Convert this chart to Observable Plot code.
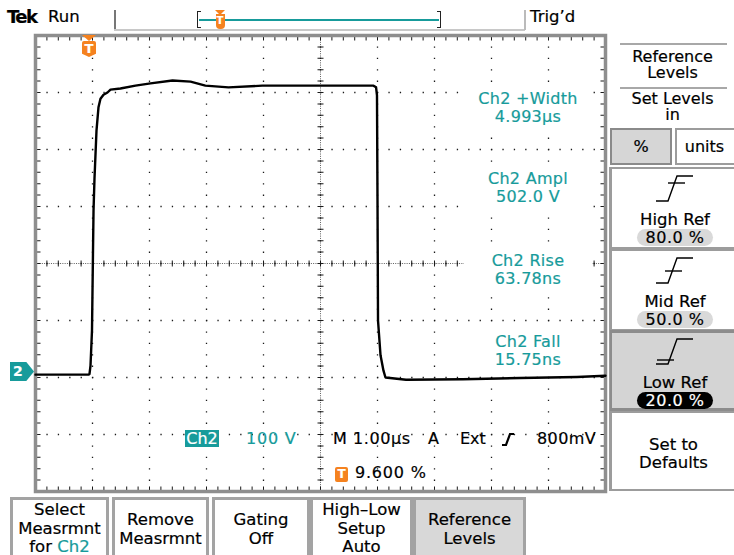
<!DOCTYPE html>
<html><head><meta charset="utf-8">
<script src="https://cdn.jsdelivr.net/npm/d3@7"></script>
<script src="https://cdn.jsdelivr.net/npm/@observablehq/plot@0.6"></script>
<style>
html,body{margin:0;padding:0;background:#fff;}
#scope{position:relative;width:734px;height:555px;overflow:hidden;font-family:"DejaVu Sans",sans-serif;font-size:16px;color:#000;background:#fff;-webkit-text-stroke:0.2px currentColor;}
#scope svg{position:absolute;left:0;top:0;}
.a{position:absolute;white-space:nowrap;box-sizing:border-box;}
.teal{color:#179b9b;}
.c{text-align:center;}
.box{border:2px solid #9c9c9c;background:#fff;}
.btn{border:3px solid #a3a3a3;border-bottom:none;background:#fff;text-align:center;font-size:16.5px;line-height:18.5px;}
.pill{height:17px;line-height:17px;border-radius:9px;text-align:center;letter-spacing:0.5px;}
</style></head>
<body><div id="scope"></div>
<script>
// ---- waveform (time in µs, Ch2 voltage in V) ----
const timeUs = [0, 0.5, 0.93, 0.947, 0.965, 0.991, 1.018, 1.035, 1.07, 1.105, 1.14, 1.193, 1.263, 1.316, 1.49, 1.754, 2.018, 2.404, 2.72, 2.98, 3.386, 3.98, 4.56, 5.14, 5.93, 5.975, 5.991, 6.0, 6.009, 6.053, 6.105, 6.14, 6.5, 7.5, 8.5, 9.5, 10];
const volts  = [5, 5, 5, 6, 21, 82, 293, 349, 433, 474, 489, 496, 500, 505, 507, 512, 516, 521, 519, 512, 509, 512, 512, 512, 512, 509, 495, 311, 100, 39, 12, 0, -4, -3, -1, 1, 3];

// ---- graticule (10 x 8 divisions, 1 µs/div, 100 V/div) ----
const timeDomain = [0, 10];
const voltDomain = [-200, 600];
const gridTimes = [1, 2, 3, 4, 5, 6, 7, 8, 9];
const gridVolts = [-100, 0, 100, 200, 300, 400, 500];
const centerTimes = [5];
const centerVolts = [200];
const edgeTimes = [0, 10];
const edgeVolts = [-200, 600];

// ---- texts ----
const readoutNames  = ["Ch2 +Width", "Ch2 Ampl", "Ch2 Rise", "Ch2 Fall"];
const readoutValues = ["4.993µs", "502.0 V", "63.78ns", "15.75ns"];
const refNames  = ["High Ref", "Mid Ref", "Low Ref"];
const refValues = ["80.0 %", "50.0 %", "20.0 %"];
const bottomLabels = [["Select", "Measrmnt", "for <span class='teal'>Ch2</span>"], ["Remove", "Measrmnt"], ["Gating", "Off"], ["High–Low", "Setup", "Auto"], ["Reference", "Levels"]];
const statusTexts = {ch: "Ch2", scale: "100 V", m: "M", time: "1.00µs", a: "A", src: "Ext", lvl: "800mV", trig: "9.600 %"};

const wave = timeUs.map((t, i) => ({t, v: volts[i]}));
const ink = "#1a1a1a";

const svg = Plot.plot({
  width: 734, height: 555,
  marginLeft: 35, marginRight: 129, marginTop: 35, marginBottom: 64,
  style: {background: "transparent"},
  x: {domain: timeDomain, axis: null},
  y: {domain: voltDomain, axis: null},
  marks: [
    Plot.ruleX(gridTimes, {stroke: ink, strokeWidth: 1.3, strokeDasharray: "1.3,10.1"}),
    Plot.ruleY(gridVolts, {stroke: ink, strokeWidth: 1.3, strokeDasharray: "1.3,10.1"}),
    Plot.ruleX(centerTimes, {stroke: ink, strokeWidth: 1, strokeDasharray: "1,1.28", strokeOpacity: 0.7}),
    Plot.ruleY(centerVolts, {stroke: ink, strokeWidth: 1, strokeDasharray: "1,1.28", strokeOpacity: 0.7}),
    Plot.ruleX(centerTimes, {stroke: ink, strokeWidth: 6, strokeDasharray: "1,10.4"}),
    Plot.ruleY(centerVolts, {stroke: ink, strokeWidth: 6, strokeDasharray: "1,10.4"}),
    Plot.ruleX(edgeTimes, {stroke: ink, strokeWidth: 10, strokeDasharray: "1,10.4", clip: true}),
    Plot.ruleY(edgeVolts, {stroke: ink, strokeWidth: 10, strokeDasharray: "1,10.4", clip: true}),
    Plot.frame({stroke: "#8e8e8e", strokeWidth: 3.5}),
    Plot.line(wave, {x: "t", y: "v", stroke: "#000", strokeWidth: 2.4, strokeLinejoin: "round"})
  ]
});

const root = document.getElementById("scope");
root.appendChild(svg);

const orange = "#f5821f", teal = "#179b9b";
let h = "";

// top bar
h += `<div class="a" style="left:7px;top:6px;font-weight:bold;font-size:18px;letter-spacing:-1.6px;">Tek</div>`;
h += `<div class="a" style="left:48px;top:7px;font-size:16.5px;">Run</div>`;
h += `<div class="a" style="left:114px;top:10px;width:1.5px;height:21px;background:#777"></div>`;
h += `<div class="a" style="left:114px;top:29px;width:411px;height:1.5px;background:#c8c8c8"></div>`;
h += `<div class="a" style="left:524px;top:10px;width:1.5px;height:20px;background:#bbb"></div>`;
h += `<div class="a" style="left:197px;top:11px;width:4px;height:17px;border:1.3px solid #222;border-right:none"></div>`;
h += `<div class="a" style="left:437px;top:11px;width:4px;height:17px;border:1.3px solid #222;border-left:none"></div>`;
h += `<div class="a" style="left:199px;top:19px;width:240px;height:2px;background:${teal}"></div>`;
h += `<div class="a" style="left:215px;top:10px;width:0;height:0;border-left:5px solid transparent;border-right:5px solid transparent;border-top:5px solid ${orange}"></div>`;
h += `<div class="a" style="left:215.5px;top:14px;width:9px;height:15px;background:${orange};border-radius:0 0 4px 4px;color:#fff;font-size:10px;font-weight:bold;line-height:14px;text-align:center">T</div>`;
h += `<div class="a" style="left:530px;top:7px;font-size:16.5px;">Trig’d</div>`;

// trigger position marker in graticule
h += `<div class="a" style="left:82px;top:35px;width:0;height:0;border-left:7px solid transparent;border-right:7px solid transparent;border-top:6px solid ${orange}"></div>`;
h += `<div class="a" style="left:82px;top:41px;width:14px;height:16px;background:${orange};clip-path:polygon(0 0,100% 0,100% 80%,50% 100%,0 80%);border-radius:2px;color:#fff;font-weight:bold;font-size:13px;line-height:15px;text-align:center">T</div>`;

// ground marker
h += `<div class="a" style="left:10px;top:362px;width:24px;height:19px;background:${teal};clip-path:polygon(0 0,68% 0,100% 50%,68% 100%,0 100%);color:#fff;font-weight:bold;font-size:14px;line-height:19px;padding-left:3px">2</div>`;

// readouts (each on its own white backing, hiding the graticule behind it)
const readoutTops = [90, 170, 252, 333];
readoutNames.forEach((n, i) => {
  h += `<div class="a c teal" style="left:464px;top:${readoutTops[i] - 2}px;width:128px;padding-top:2px;height:40px;background:#fff;line-height:18px;font-size:16px;letter-spacing:0.3px">${n}<br>${readoutValues[i]}</div>`;
});

// status line
h += `<div class="a" style="left:185px;top:430px;width:34px;height:17px;background:${teal};color:#fff;line-height:17px;text-align:center;font-size:16px">${statusTexts.ch}</div>`;
h += `<div class="a teal" style="left:246px;top:430px;line-height:18px;letter-spacing:0.8px">${statusTexts.scale}</div>`;
h += `<div class="a" style="left:333px;top:430px;line-height:18px">${statusTexts.m}</div>`;
h += `<div class="a" style="left:353px;top:430px;line-height:18px;letter-spacing:0.6px">${statusTexts.time}</div>`;
h += `<div class="a" style="left:428px;top:430px;line-height:18px">${statusTexts.a}</div>`;
h += `<div class="a" style="left:460px;top:430px;line-height:18px">${statusTexts.src}</div>`;
h += `<svg class="a" style="left:501px;top:432px" width="14" height="15"><path d="M1,13 H5 L9,2 H13" fill="none" stroke="#000" stroke-width="2.2"/></svg>`;
h += `<div class="a" style="left:537px;top:430px;line-height:18px;letter-spacing:0.4px">${statusTexts.lvl}</div>`;
h += `<div class="a" style="left:335px;top:467px;width:13px;height:15px;background:${orange};border-radius:2px;color:#fff;font-weight:bold;font-size:12px;line-height:15px;text-align:center">T</div>`;
h += `<div class="a" style="left:355px;top:464px;line-height:18px;letter-spacing:0.8px">${statusTexts.trig}</div>`;

// right panel
h += `<div class="a" style="left:609px;top:167px;width:3px;height:324px;background:#9c9c9c"></div>`;
h += `<div class="a" style="left:620px;top:43px;width:107px;height:2px;background:#a8a8a8"></div>`;
h += `<div class="a c" style="left:611px;top:49px;width:123px;height:32px;line-height:16px;font-size:16px">Reference<br>Levels</div>`;
h += `<div class="a" style="left:620px;top:87px;width:107px;height:2px;background:#a8a8a8"></div>`;
h += `<div class="a c" style="left:611px;top:91px;width:123px;height:32px;line-height:16px;font-size:16px">Set Levels<br>in</div>`;
h += `<div class="a box c" style="left:610px;top:128px;width:62px;height:37px;background:#d6d6d6;border-color:#8a8a8a;line-height:33px">%</div>`;
h += `<div class="a box c" style="left:675px;top:128px;width:64px;height:37px;line-height:33px;padding-right:5px">units</div>`;
const refBoxTops = [167, 249, 330];
const refDash = [[13, 30, 10], [10, 27, 16], [2, 19, 24]];
refNames.forEach((n, i) => {
  const top = refBoxTops[i];
  const sel = i === 2;
  h += `<div class="a box" style="left:610px;top:${top}px;width:130px;height:${i===2?81:82}px;${sel ? "background:#d4d4d4;border-color:#8c8c8c;border-width:3px 2px 3px 2px" : ""}"></div>`;
  const d = refDash[i];
  h += `<svg class="a" style="left:655px;top:${top + 6}px" width="40" height="30"><path d="M1,28 H13 L22,3 H38" fill="none" stroke="#000" stroke-width="1.4"/><path d="M${d[0]},${d[2]} H${d[1]}" stroke="#000" stroke-width="1.4"/></svg>`;
  h += `<div class="a c" style="left:611px;top:${top + 44}px;width:128px;line-height:18px;font-size:16.5px">${n}</div>`;
  h += `<div class="a pill" style="left:637px;top:${top + 62}px;width:76px;${sel ? "background:#000;color:#fff" : "background:#d9d9d9"}">${refValues[i]}</div>`;
});
h += `<div class="a box" style="left:610px;top:411px;width:130px;height:80px"></div>`;
h += `<div class="a c" style="left:611px;top:436px;width:125px;line-height:17.5px;font-size:16.5px">Set to<br>Defaults</div>`;

// bottom buttons
const btnLefts = [10, 112, 212, 310, 413];
const btnWidths = [99, 97, 98, 103, 113];
bottomLabels.forEach((lines, i) => {
  const pad = lines.length === 3 ? 1 : 11;
  h += `<div class="a btn" style="left:${btnLefts[i]}px;top:497px;width:${btnWidths[i]}px;height:60px;padding-top:${pad}px;${i===4?"background:#d8d8d8;":""}">${lines.join("<br>")}</div>`;
});

root.insertAdjacentHTML("beforeend", h);
</script>
</body></html>
